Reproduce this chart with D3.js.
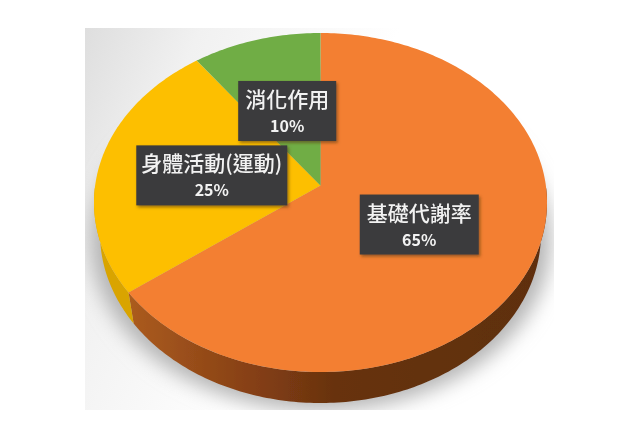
<!DOCTYPE html>
<html>
<head>
<meta charset="utf-8">
<script src="https://cdn.jsdelivr.net/npm/d3@7"></script>
<style>
html, body { margin: 0; padding: 0; background: #fff; }
svg { display: block; }
text { font-family: "Noto Sans CJK TC", "Noto Sans", sans-serif; }
</style>
</head>
<body>
<div id="chart"></div>
<script>
// datos
const categories = ['基礎代謝率', '身體活動(運動)', '消化作用'];
const percents = [65, 25, 10];

// colores
const topColors = ['#f37f31', '#fdbf05', '#6fad45'];
const wallColors = ['url(#wallOrange)', '#d9a404', '#5a8a38'];

// posicion de las etiquetas, en coordenadas de la cara superior (-1..1)
const labelAnchors = [[0.436, 0.13], [-0.48, -0.16], [-0.147, -0.54]];
const labelWidths = [119, 151, 98];

const width = 640;
const height = 430;
const depth = 31;
const apexV = -0.1;      // el vertice queda arriba del centro por la perspectiva
const skew = 0.085;      // correccion de perspectiva del angulo en el borde

const svg = d3.select('#chart').append('svg')
    .attr('width', width)
    .attr('height', height);

const defs = svg.append('defs');

const bgGrad = defs.append('linearGradient').attr('id', 'bgGrad')
    .attr('x1', 0).attr('y1', 0).attr('x2', 1).attr('y2', 0.35);
bgGrad.append('stop').attr('offset', '0%').attr('stop-color', '#dedede');
bgGrad.append('stop').attr('offset', '22%').attr('stop-color', '#f1f1f1');
bgGrad.append('stop').attr('offset', '60%').attr('stop-color', '#ffffff');

const wallGrad = defs.append('linearGradient').attr('id', 'wallOrange')
    .attr('gradientUnits', 'userSpaceOnUse')
    .attr('x1', 130).attr('y1', 0).attr('x2', 545).attr('y2', 0);
wallGrad.append('stop').attr('offset', '0%').attr('stop-color', '#ab5b1f');
wallGrad.append('stop').attr('offset', '30%').attr('stop-color', '#853f14');
wallGrad.append('stop').attr('offset', '50%').attr('stop-color', '#67320f');
wallGrad.append('stop').attr('offset', '100%').attr('stop-color', '#5f2f10');

defs.append('filter').attr('id', 'shadowBlur')
    .attr('x', '-20%').attr('y', '-20%').attr('width', '140%').attr('height', '140%')
    .append('feGaussianBlur').attr('stdDeviation', 10);

defs.append('filter').attr('id', 'soft')
    .append('feGaussianBlur').attr('stdDeviation', 0.7);

defs.append('filter').attr('id', 'softText')
    .attr('x', '-5%').attr('y', '-20%').attr('width', '110%').attr('height', '140%')
    .append('feGaussianBlur').attr('stdDeviation', 0.45);

const boxShadow = defs.append('filter').attr('id', 'boxShadow')
    .attr('x', '-10%').attr('y', '-10%').attr('width', '125%').attr('height', '130%');
boxShadow.append('feDropShadow')
    .attr('dx', 1.5).attr('dy', 2).attr('stdDeviation', 1.5)
    .attr('flood-color', '#5a3a10').attr('flood-opacity', 0.6);

defs.append('clipPath').attr('id', 'bgClip')
    .append('rect').attr('x', 85).attr('y', 28).attr('width', 469).attr('height', 382);

// escalas de la cara superior
const x = d3.scaleLinear().domain([-1, 1]).range([94, 547]);
const y = d3.scaleLinear().domain([-1, 1]).range([33, 372]);
const xBottom = d3.scaleLinear().domain([-1, 1]).range([100, 541]);
const yBottom = d3.scaleLinear().domain([-1, 1]).range([33 + depth, 372 + depth]);

const rimU = a => Math.sin(a - skew * Math.sin(a));
const rimV = a => -Math.cos(a - skew * Math.sin(a));

const pie = d3.pie().sort(null).value(d => d);
const slices = pie(percents);

const line = d3.line();

function sampleAngles(start, end) {
    const n = Math.max(2, Math.ceil((end - start) * 60));
    return d3.range(n + 1).map(i => start + (end - start) * i / n);
}

// fondo y sombra
svg.append('rect')
    .attr('x', 85).attr('y', 28).attr('width', 469).attr('height', 382)
    .attr('fill', 'url(#bgGrad)');

svg.append('g').attr('clip-path', 'url(#bgClip)')
    .append('ellipse')
    .attr('cx', x(0)).attr('cy', y(0) + 38)
    .attr('rx', 230).attr('ry', 170)
    .attr('fill', '#b4b4b4')
    .attr('filter', 'url(#shadowBlur)');

const pieGroup = svg.append('g').attr('filter', 'url(#soft)');

// pared lateral, solo la parte de adelante
pieGroup.selectAll('path.wall')
    .data(slices)
    .join('path')
    .attr('class', 'wall')
    .attr('fill', (d, i) => wallColors[i])
    .attr('d', d => {
        const start = Math.max(d.startAngle, Math.PI / 2);
        const end = Math.min(d.endAngle, Math.PI * 1.5);
        if (end <= start) return null;
        const angles = sampleAngles(start, end);
        const front = angles.map(a => [x(rimU(a)), y(rimV(a))]);
        const back = angles.slice().reverse().map(a => [xBottom(rimU(a)), yBottom(rimV(a))]);
        return line(front.concat(back)) + 'Z';
    });

// cara superior
pieGroup.selectAll('path.slice')
    .data(slices)
    .join('path')
    .attr('class', 'slice')
    .attr('fill', (d, i) => topColors[i])
    .attr('d', d => {
        const rim = sampleAngles(d.startAngle, d.endAngle).map(a => [x(rimU(a)), y(rimV(a))]);
        return line([[x(0), y(apexV)]].concat(rim)) + 'Z';
    });

// etiquetas
const labels = svg.selectAll('g.label')
    .data(categories)
    .join('g')
    .attr('class', 'label')
    .attr('transform', (d, i) => `translate(${x(labelAnchors[i][0])},${y(labelAnchors[i][1])})`);

labels.append('rect')
    .attr('x', (d, i) => -labelWidths[i] / 2)
    .attr('y', -30)
    .attr('width', (d, i) => labelWidths[i])
    .attr('height', 60)
    .attr('fill', '#3b3b3d')
    .attr('filter', 'url(#boxShadow)');

labels.append('text')
    .attr('text-anchor', 'middle')
    .attr('y', -4)
    .attr('font-size', 21)
    .attr('font-weight', 500)
    .attr('fill', '#f2f2f2')
    .attr('filter', 'url(#softText)')
    .text(d => d);

labels.append('text')
    .attr('text-anchor', 'middle')
    .attr('y', 21)
    .attr('font-size', 16)
    .attr('font-weight', 700)
    .attr('fill', '#f2f2f2')
    .attr('filter', 'url(#softText)')
    .text((d, i) => percents[i] + '%');
</script>
</body>
</html>
